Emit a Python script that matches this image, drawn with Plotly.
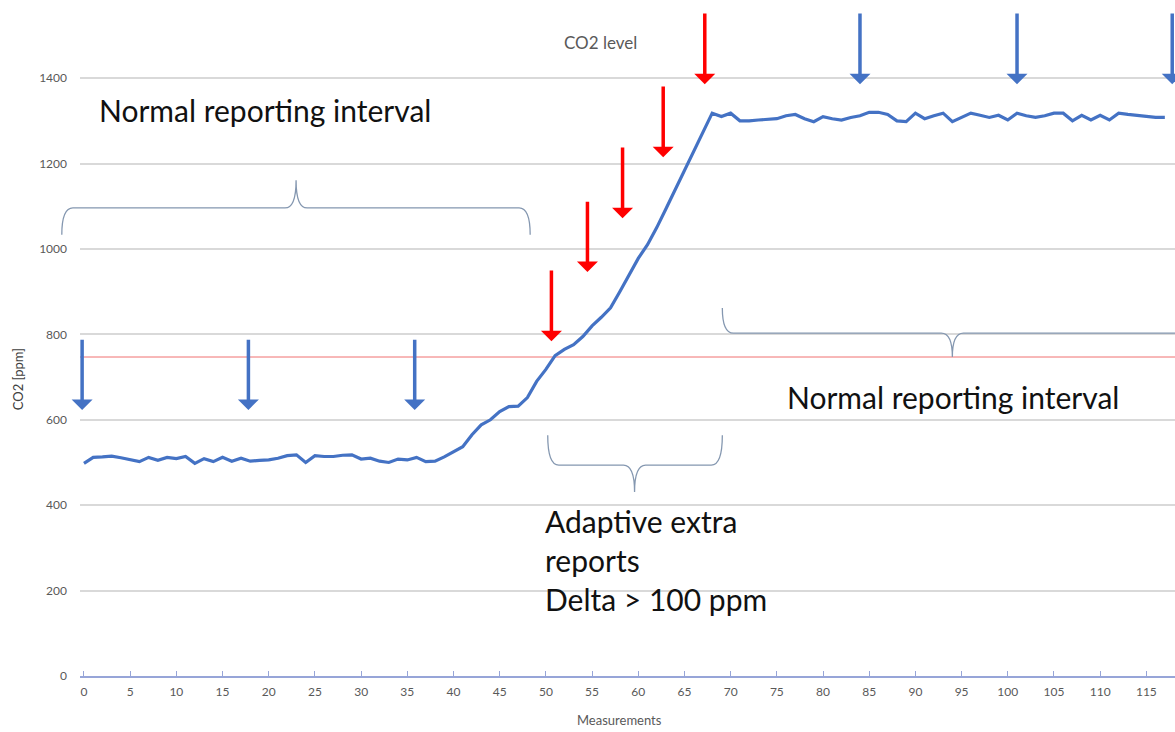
import plotly.graph_objects as go

# ---------------- data ----------------
measurements = list(range(118))
co2_ppm = [
    498, 512, 513, 515, 511, 506, 502, 512, 505, 512,
    509, 514, 498, 509, 502, 512, 503, 510, 503, 505,
    506, 510, 516, 518, 500, 516, 514, 514, 517, 518,
    508, 510, 503, 500, 508, 506, 512, 502, 503, 513,
    525, 537, 565, 588, 600, 619, 631, 632, 652, 690,
    718, 750, 765, 776, 795, 820, 840, 862, 900, 938,
    978, 1010, 1050, 1094, 1138, 1182, 1226, 1270, 1318, 1310,
    1318, 1300, 1300, 1302, 1303, 1305, 1312, 1315, 1305, 1298,
    1310, 1305, 1302, 1308, 1312, 1320, 1320, 1315, 1300, 1298,
    1318, 1305, 1312, 1318, 1298, 1308, 1318, 1313, 1308, 1313,
    1302, 1318, 1312, 1308, 1312, 1318, 1318, 1300, 1313, 1302,
    1313, 1302, 1318, 1315, 1313, 1311, 1308, 1308,
]
threshold_ppm = 747
x_tick_vals = list(range(0, 116, 5))
y_tick_vals = list(range(0, 1401, 200))

# reporting events (measurement index, arrow tail ppm, arrow tip ppm)
normal_reports = [(-0.2, 791, 623), (17.8, 791, 623), (35.8, 791, 623),
                  (84.0, 1555, 1386), (101.0, 1555, 1386), (117.8, 1555, 1386)]
extra_reports = [(50.6, 953, 784), (54.5, 1114, 946), (58.3, 1241, 1072),
                 (62.7, 1384, 1215), (67.2, 1555, 1386)]

# ---------------- layout helpers ----------------
XR = [-0.43, 118.1]
YR = [0, 1583]
FONT = "Lato"
GRAY = "#595959"
BLUE = "#4472c4"
RED = "#ff0000"
BRACE = "#8497b0"


def px(ix):
    return (ix - XR[0]) / (XR[1] - XR[0])


def py(v):
    return (v - YR[0]) / (YR[1] - YR[0])


def brace(x0, x1, xm, y_end, y_line, y_tip, r=1.0):
    pts = [
        f"M {px(x0)},{py(y_end)}",
        f"Q {px(x0)},{py(y_line)} {px(x0 + r)},{py(y_line)}",
        f"L {px(xm - r)},{py(y_line)}",
        f"Q {px(xm)},{py(y_line)} {px(xm)},{py(y_tip)}",
        f"Q {px(xm)},{py(y_line)} {px(xm + r)},{py(y_line)}",
        f"L {px(x1 - r)},{py(y_line)}",
        f"Q {px(x1)},{py(y_line)} {px(x1)},{py(y_end)}",
    ]
    return dict(type="path", xref="paper", yref="paper", path=" ".join(pts),
                line=dict(color=BRACE, width=1.3), layer="above")


fig = go.Figure()
fig.add_trace(go.Scatter(
    x=measurements, y=co2_ppm, mode="lines",
    line=dict(color=BLUE, width=3.2), hoverinfo="skip", showlegend=False,
))

shapes = [
    dict(type="line", xref="paper", yref="y", x0=0, x1=1,
         y0=threshold_ppm, y1=threshold_ppm,
         line=dict(color="#f07070", width=1), layer="below"),
    brace(-2.4, 48.3, 22.96, 1033, 1096, 1161, r=1.2),
    brace(69.1, 119.5, 94.0, 862, 803, 747, r=1.2),
    brace(50.2, 69.1, 59.6, 564, 494, 431, r=1.2),
]

annotations = []
for (ix, tail, tip) in normal_reports:
    annotations.append(dict(x=ix, y=tip, ax=ix, ay=tail, xref="x", yref="y",
                            axref="x", ayref="y", text="", showarrow=True,
                            arrowhead=1, arrowsize=1.0, arrowwidth=3.5,
                            arrowcolor=BLUE))
for (ix, tail, tip) in extra_reports:
    annotations.append(dict(x=ix, y=tip, ax=ix, ay=tail, xref="x", yref="y",
                            axref="x", ayref="y", text="", showarrow=True,
                            arrowhead=1, arrowsize=1.0, arrowwidth=3.5,
                            arrowcolor=RED))

annotations += [
    dict(x=55.9, y=1484, xref="x", yref="y", text="CO2 level", showarrow=False,
         font=dict(family=FONT, size=17, color=GRAY)),
    dict(x=1.4, y=1325, xref="x", yref="y", text="Normal reporting interval",
         showarrow=False, xanchor="left",
         font=dict(family=FONT, size=30, color="#111111")),
    dict(x=75.9, y=653, xref="x", yref="y", text="Normal reporting interval",
         showarrow=False, xanchor="left",
         font=dict(family=FONT, size=30, color="#111111")),
    dict(x=49.7, y=272, xref="x", yref="y",
         text="Adaptive extra<br>reports<br>Delta > 100 ppm",
         showarrow=False, xanchor="left", align="left",
         font=dict(family=FONT, size=30, color="#111111")),
    dict(x=px(58.0), y=py(-103), xref="paper", yref="paper", text="Measurements",
         showarrow=False, xanchor="center", yanchor="middle",
         font=dict(family=FONT, size=13, color=GRAY)),
    dict(x=(18 - 80) / 1095, y=py(695), xref="paper", yref="paper",
         text="CO2 [ppm]", textangle=-90, showarrow=False,
         xanchor="center", yanchor="middle",
         font=dict(family=FONT, size=13, color="#404040")),
]

fig.update_layout(
    width=1175, height=732,
    margin=dict(l=80, r=0, t=0, b=56),
    paper_bgcolor="white", plot_bgcolor="white",
    shapes=shapes, annotations=annotations,
    xaxis=dict(range=XR, tickvals=x_tick_vals, showgrid=False, zeroline=False,
               showline=True, linecolor="#97a5d8", linewidth=1.5,
               ticks="inside", ticklen=5, tickcolor="#97a5d8", tickwidth=1,
               ticklabelstandoff=4,
               tickfont=dict(family=FONT, size=12, color=GRAY)),
    yaxis=dict(range=YR, tickvals=y_tick_vals, showgrid=True,
               gridcolor="#d9d9d9", gridwidth=1.5, zeroline=False,
               showline=False, ticks="", ticklabelstandoff=12,
               tickfont=dict(family=FONT, size=12, color=GRAY)),
)

fig.write_html("out.html", config={"displayModeBar": False},
               post_script="document.body.style.margin='0';"
                           "document.body.style.overflow='hidden';")
